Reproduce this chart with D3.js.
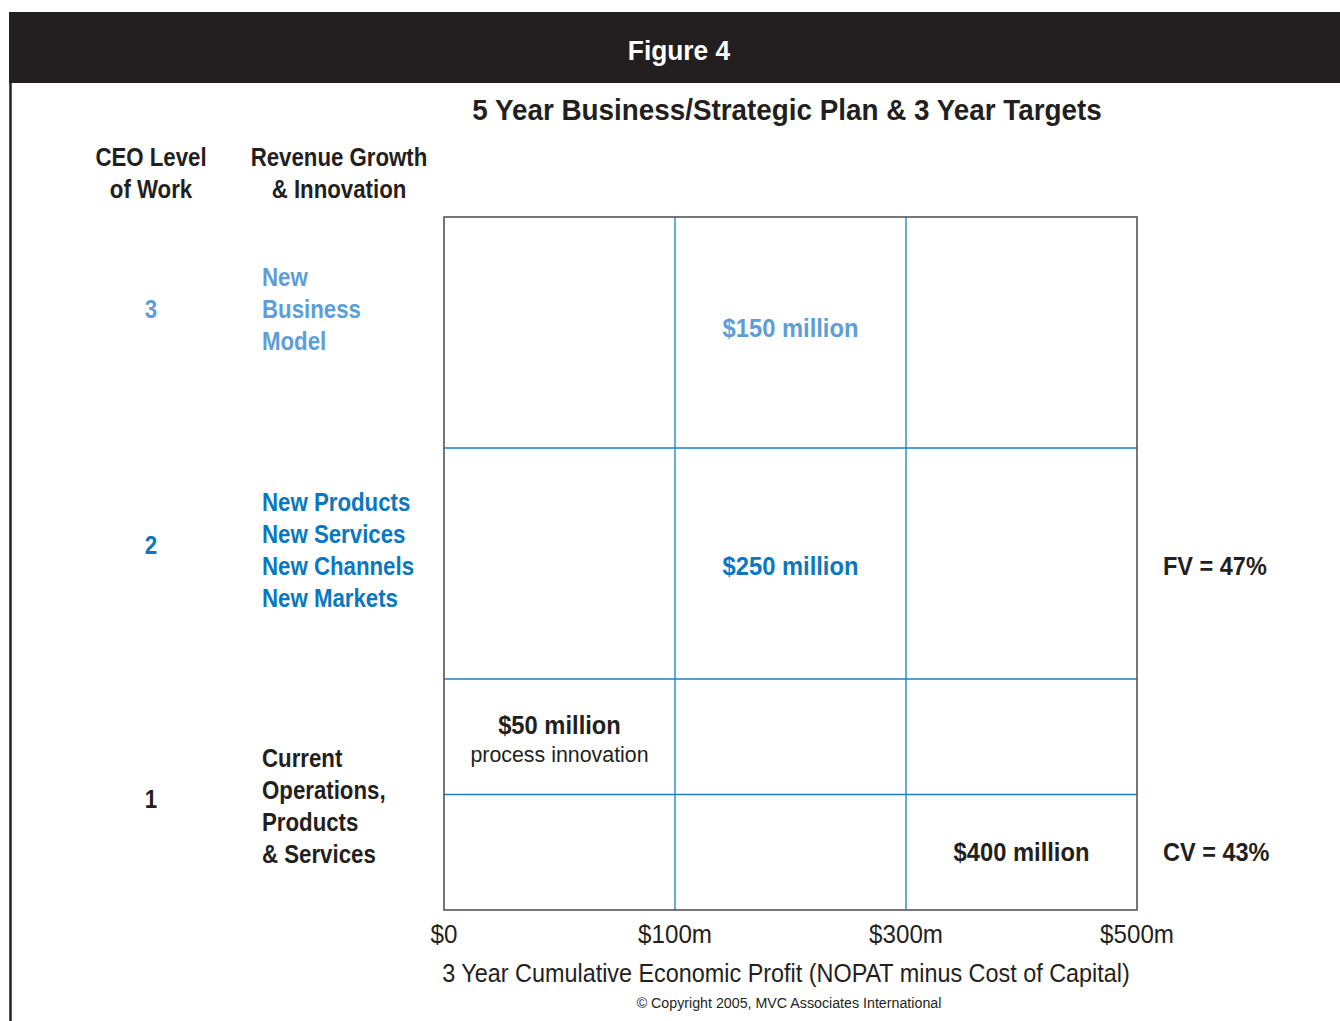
<!DOCTYPE html>
<html lang="en">
<head>
<meta charset="UTF-8">
<title>Figure 4</title>
<style>
  body { margin: 0; background: #fff; }
  svg text { font-family: "Liberation Sans", Arial, sans-serif; }
</style>
</head>
<body>
<script src="https://d3js.org/d3.v7.min.js"></script>
<script>
// data
const xTicks = ["$0", "$100m", "$300m", "$500m"]
const levels = [1, 2, 3]
const rowSplits = [0.5, 1, 2]          // horizontal grid lines, in level units
const levelColors = {1: "#231f20", 2: "#0a78c0", 3: "#5e9ed8"}
const levelText = {
  3: ["New", "Business", "Model"],
  2: ["New Products", "New Services", "New Channels", "New Markets"],
  1: ["Current", "Operations,", "Products", "& Services"]
}
const levelCenters = {3: 2.6, 2: 1.58, 1: 0.48}
const textCenters = {3: 2.6, 2: 1.56, 1: 0.45}
// cell targets: column position (in column units), level position
const targets = [
  {label: "$150 million", sub: null, x: 1.5, y: 2.52, level: 3},
  {label: "$250 million", sub: null, x: 1.5, y: 1.49, level: 2},
  {label: "$50 million", sub: "process innovation", x: 0.5, y: 0.8, level: 1},
  {label: "$400 million", sub: null, x: 2.5, y: 0.25, level: 1}
]
const sideNotes = [{text: "FV = 47%", y: 1.49}, {text: "CV = 43%", y: 0.25}]

const width = 1340, height = 1021
const margin = {top: 217, right: 203, bottom: 111, left: 444}
const ink = "#231f20"

const svg = d3.select("body").append("svg")
  .attr("width", width).attr("height", height)

// narrow text helper (squeezes a regular face to look condensed)
function label(parent, x, y, txt, o) {
  return parent.append("text")
    .attr("transform", `translate(${x},${y}) scale(${o.sx || 0.89},1)`)
    .attr("text-anchor", o.anchor || "start")
    .attr("font-size", o.size).attr("font-weight", o.weight || "normal")
    .attr("fill", o.fill || ink).text(txt)
}

// header band and frame
svg.append("rect").attr("x", 9).attr("y", 12).attr("width", width - 9).attr("height", 71)
  .attr("fill", ink)
svg.append("line").attr("x1", 10.5).attr("x2", 10.5).attr("y1", 83).attr("y2", height)
  .attr("stroke", ink).attr("stroke-width", 2.5)
label(svg, 679, 60, "Figure 4", {size: 28, weight: "bold", fill: "#fff", anchor: "middle", sx: 0.94})
label(svg, 787, 120, "5 Year Business/Strategic Plan & 3 Year Targets", {size: 29, weight: "bold", anchor: "middle", sx: 0.96})

const x = d3.scalePoint().domain(xTicks).range([margin.left, width - margin.right])
const y = d3.scaleLinear().domain([0, 3]).range([height - margin.bottom, margin.top])
const colX = c => margin.left + c * x.step()

// grid
const g = svg.append("g")
g.selectAll(".vline").data(xTicks.slice(1, -1)).join("line")
  .attr("x1", d => x(d)).attr("x2", d => x(d)).attr("y1", y(3)).attr("y2", y(0))
  .attr("stroke", "#1b7dc4").attr("stroke-width", 1.3)
g.selectAll(".hline").data(rowSplits).join("line")
  .attr("x1", x(xTicks[0])).attr("x2", x(xTicks[3])).attr("y1", d => y(d)).attr("y2", d => y(d))
  .attr("stroke", "#1b7dc4").attr("stroke-width", 1.3)
g.append("rect").attr("x", x(xTicks[0])).attr("y", y(3))
  .attr("width", x(xTicks[3]) - x(xTicks[0])).attr("height", y(0) - y(3))
  .attr("fill", "none").attr("stroke", "#555").attr("stroke-width", 1.6)

// x axis labels
const ax = svg.append("g")
xTicks.forEach(t => label(ax, x(t), 943, t, {size: 26, anchor: "middle", sx: 0.93}))
label(svg, 786, 982, "3 Year Cumulative Economic Profit (NOPAT minus Cost of Capital)", {size: 26, anchor: "middle", sx: 0.9})
label(svg, 789, 1008, "\u00a9 Copyright 2005, MVC Associates International", {size: 15, anchor: "middle", sx: 0.95})

// column headers
const hdr = [{x: 151, lines: ["CEO Level", "of Work"]}, {x: 339, lines: ["Revenue Growth", "& Innovation"]}]
hdr.forEach(h => h.lines.forEach((d, i) =>
  label(svg, h.x, 166 + i * 32, d, {size: 25, weight: "bold", anchor: "middle"})))

// level numbers and descriptions
levels.forEach(l => {
  label(svg, 151, y(levelCenters[l]) + 9, l, {size: 25, weight: "bold", fill: levelColors[l], anchor: "middle"})
  const lines = levelText[l]
  const cy = y(textCenters[l])
  lines.forEach((d, i) =>
    label(svg, 262, cy + (i - (lines.length - 1) / 2) * 32 + 9, d, {size: 25, weight: "bold", fill: levelColors[l]}))
})

// targets in cells
targets.forEach(t => {
  const cx = colX(t.x), cy = y(t.y)
  label(svg, cx, cy + 9, t.label, {size: 25, weight: "bold", fill: levelColors[t.level], anchor: "middle", sx: 0.95})
  if (t.sub) label(svg, cx, cy + 37, t.sub, {size: 23, anchor: "middle", sx: 0.93})
})

sideNotes.forEach(n => label(svg, 1163, y(n.y) + 9, n.text, {size: 25, weight: "bold", sx: 0.94}))
</script>
</body>
</html>
